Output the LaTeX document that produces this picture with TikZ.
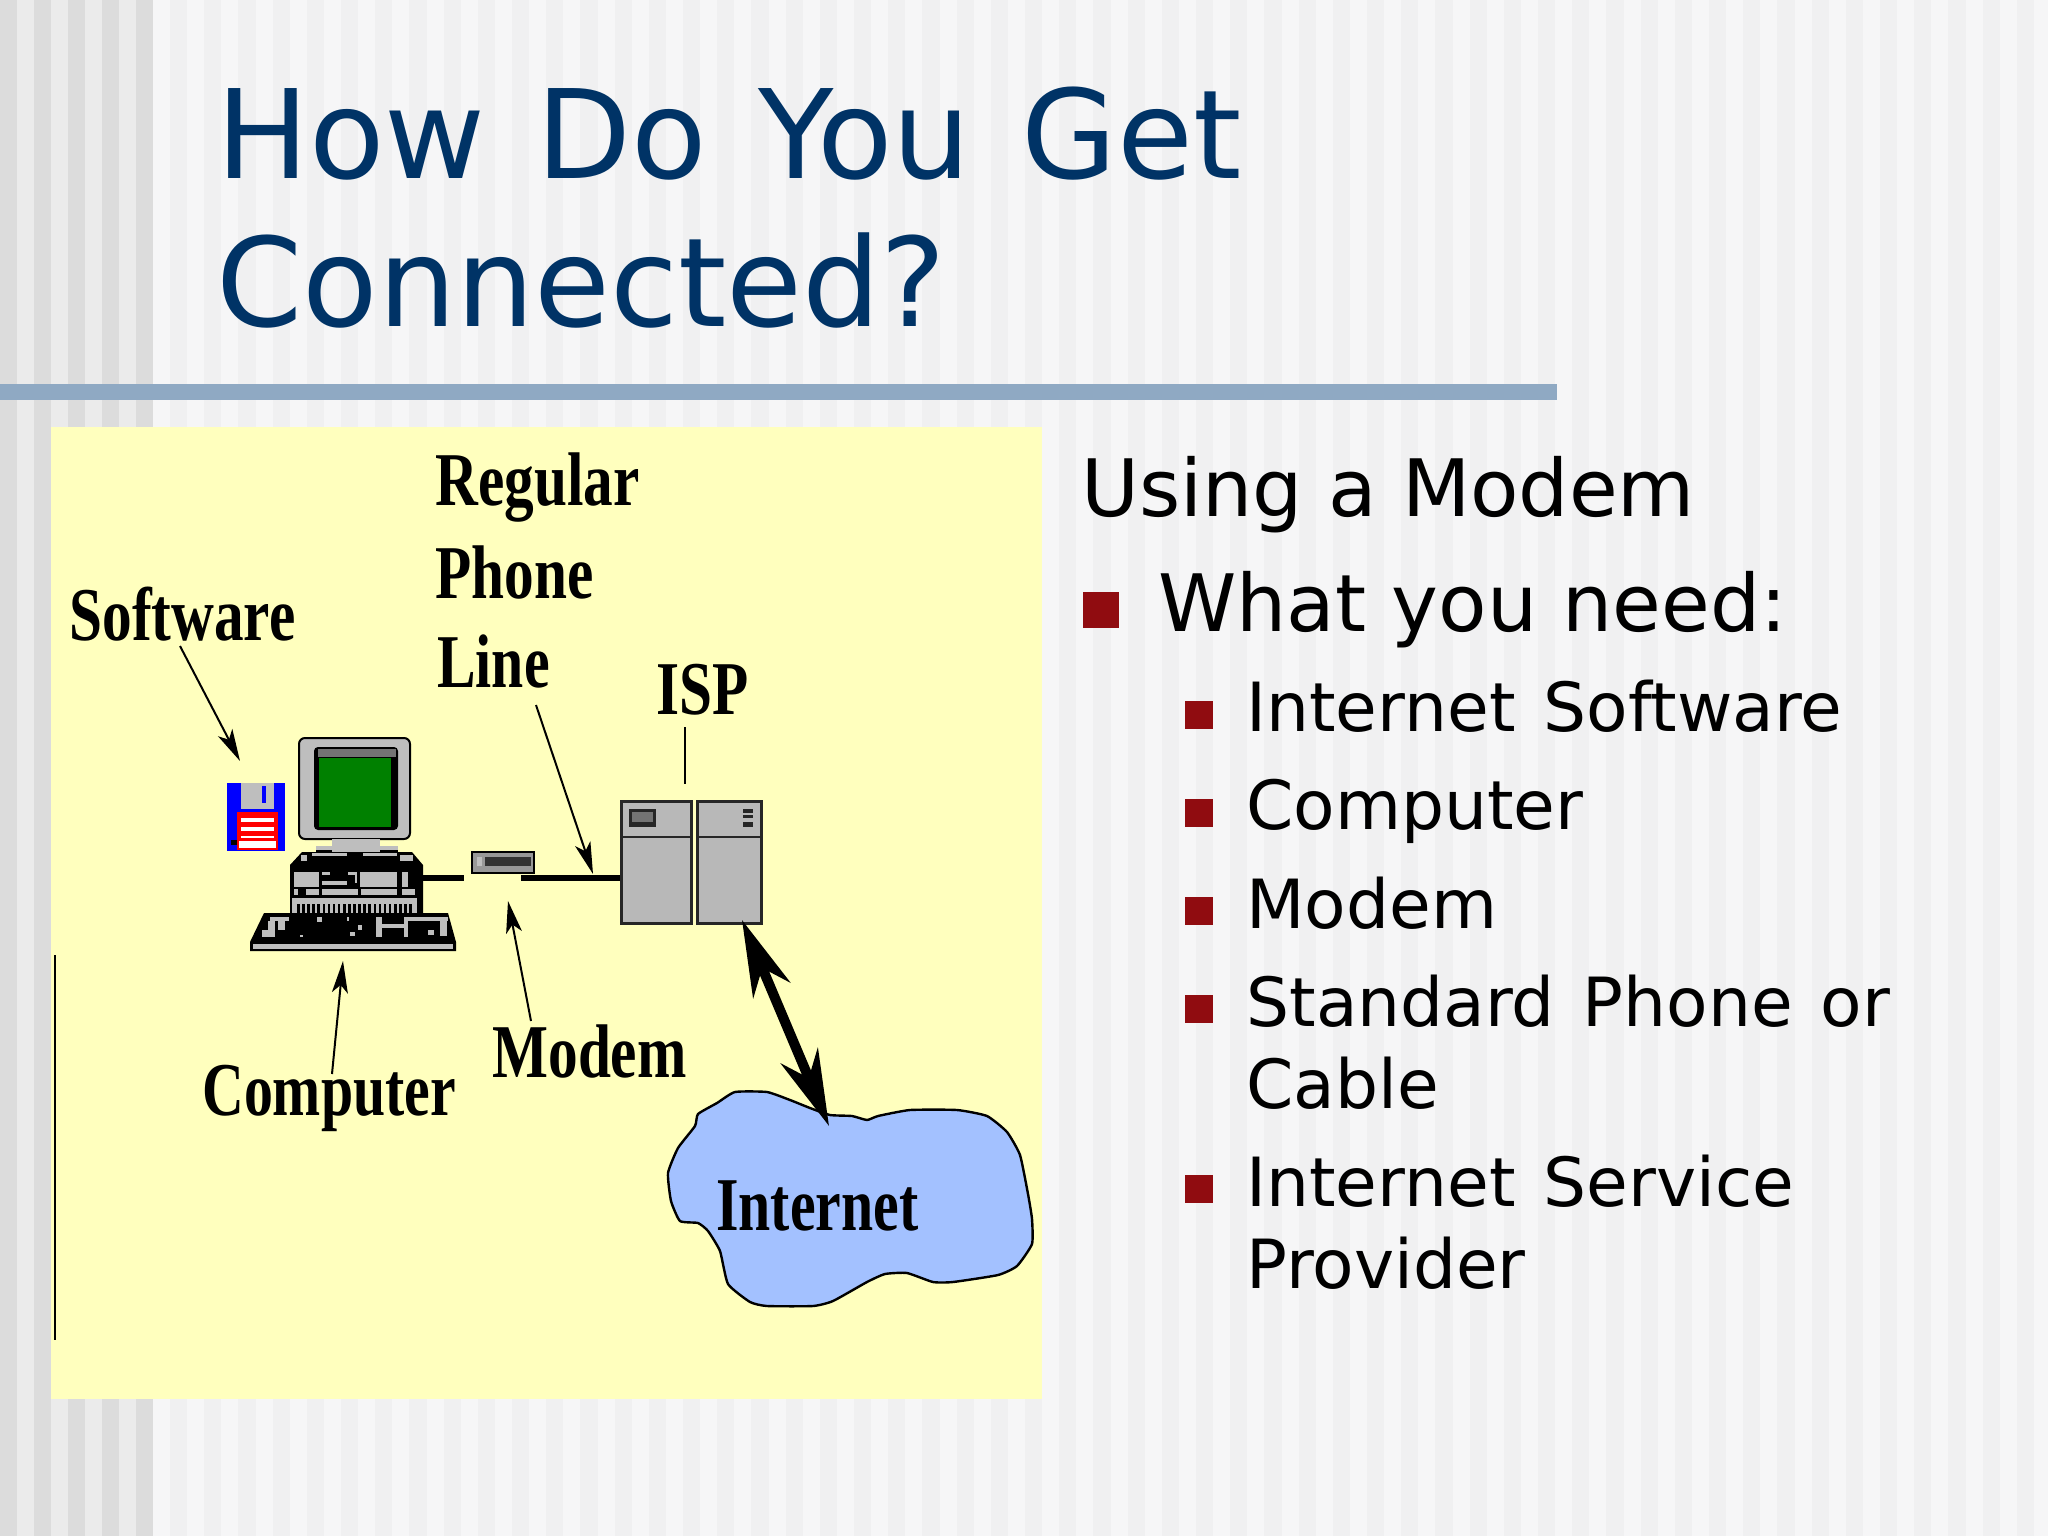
\documentclass[tikz,border=0pt]{standalone}
\usepackage{fontspec}
\setmainfont{DejaVu Sans}
\newfontfamily\clipfont[FakeStretch=0.78]{Liberation Serif}
\newfontfamily\narrowclipfont[FakeStretch=0.76]{Liberation Serif}
\newfontfamily\titlefont[WordSpace=1.42]{DejaVu Sans}
\newfontfamily\itemfont[WordSpace=1.3]{DejaVu Sans}
\usetikzlibrary{arrows.meta}
\definecolor{stripedark}{HTML}{F0F0F1}
\definecolor{stripelight}{HTML}{F6F6F7}
\definecolor{banddark}{HTML}{DCDCDC}
\definecolor{bandlight}{HTML}{EBEBEB}
\definecolor{titleblue}{HTML}{003366}
\definecolor{rulecolor}{HTML}{8FA9C3}
\definecolor{clipyellow}{HTML}{FFFFBE}
\definecolor{bulletred}{HTML}{900C10}
\definecolor{cloudblue}{HTML}{A3C1FF}
\definecolor{cabinet}{HTML}{B8B8B8}
\definecolor{pcgrey}{HTML}{BEBEBE}
\definecolor{pcgreen}{HTML}{008000}
\tikzset{
        cliplabel/.style = {anchor=base west, inner sep=0pt,
                            font=\clipfont\bfseries\fontsize{38}{40}\selectfont},
        narrowlabel/.style = {anchor=base west, inner sep=0pt,
                              font=\narrowclipfont\bfseries\fontsize{38}{40}\selectfont},
        bodylabel/.style = {anchor=base west, inner sep=0pt, align=left,
                            font=\fontsize{39.6}{48}\selectfont},
        sublabel/.style = {anchor=base west, inner sep=0pt, align=left,
                           font=\itemfont\fontsize{33.9}{41}\selectfont},
        bigbullet/.style = {fill=bulletred, inner sep=0pt, minimum size=18pt},
        subbullet/.style = {fill=bulletred, inner sep=0pt, minimum size=14pt},
        towerbox/.style = {draw=black!85, line width=1.6pt, fill=cabinet,
                           anchor=north west, inner sep=0pt,
                           minimum width=35pt, minimum height=61pt},
        pointer/.style = {line width=1pt,
                          -{Stealth[length=16pt,width=8pt,inset=4pt]}},
        cable/.style = {line width=3pt},
}
\begin{document}
\begin{tikzpicture}[x=0.5pt, y=-0.5pt]
        \useasboundingbox (0,0) rectangle (2048,1536);
        \fill[stripelight] (0,0) rectangle (2048,1536);
        \foreach \n in {0,...,55}
                \fill[stripedark] ({170+34.2*\n},0) rectangle ++(17.1,1536);
        \fill[bandlight] (0,0) rectangle (153,1536);
        \foreach \n in {0,...,4}
                \fill[banddark] ({34*\n},0) rectangle ++(17,1536);

        \fill[rulecolor] (0,384) rectangle (1557,400);
        \node[anchor=base west, inner sep=0pt, align=left, text=titleblue,
              font=\titlefont\fontsize{61.7}{74}\selectfont] (title) at (216,326)
                {How Do You Get\\Connected?};

        \fill[clipyellow] (51,427) rectangle (1042,1399);
        \draw[line width=1pt] (55,955) -- (55,1340);

        \node[cliplabel] (regular) at (435,505) {Regular};
        \node[cliplabel] (phone) at (435,598) {Phone};
        \node[narrowlabel] (line) at (437,687) {Line};
        \node[cliplabel] (software) at (69,640) {Software};
        \node[cliplabel] (isp) at (656,714) {ISP};
        \node[narrowlabel] (computer) at (202,1115) {Computer};
        \node[cliplabel] (modemlabel) at (492,1077) {Modem};

        \fill[blue] (227,783) rectangle (285,851);
        \fill[pcgrey] (241,783) rectangle (274,809);
        \fill[blue] (262,786) rectangle (266,803);
        \fill[red] (237,812) rectangle (278,850);
        \fill[white] (241,818) rectangle (274,822);
        \fill[white] (241,827) rectangle (274,831);
        \fill[white] (241,836) rectangle (274,838);
        \fill[white] (239,841) rectangle (276,848);
        \fill (231,840) rectangle (237,845);

        \draw[line width=1pt, fill=pcgrey, rounded corners=3pt] (299,738) rectangle (410,839);
        \fill[rounded corners=2pt] (314,747) rectangle (398,830);
        \fill[black!55] (318,749) rectangle (396,757);
        \fill[pcgreen] (319,758) rectangle (391,827);
        \fill (316,848) rectangle (398,853);
        \fill[pcgrey] (332,839) rectangle (380,853);
        \fill[pcgrey] (316,846) rectangle (332,850);
        \fill[pcgrey] (380,846) rectangle (398,850);

        \fill (302,852) -- (412,852) -- (423,865) -- (423,913)
                -- (290,913) -- (290,865) -- cycle;
        \fill[pcgrey] (301,855) rectangle (307,861);
        \fill[pcgrey] (400,855) rectangle (413,861);
        \fill[pcgrey] (312,853) rectangle (347,856);
        \fill[pcgrey] (363,853) rectangle (397,856);
        \fill[pcgrey] (294,872) rectangle (319,887);
        \fill[pcgrey] (360,872) rectangle (397,887);
        \fill[pcgrey] (402,872) rectangle (408,887);
        \fill[pcgrey] (322,872) rectangle (330,875);
        \fill[pcgrey] (322,881) rectangle (347,885);
        \fill[pcgrey] (348,872) rectangle (357,875);
        \fill[pcgrey] (355,872) rectangle (357,883);
        \fill[pcgrey] (294,889) rectangle (298,895);
        \fill[pcgrey] (306,889) rectangle (319,895);
        \fill[pcgrey] (322,889) rectangle (358,895);
        \fill[pcgrey] (361,889) rectangle (397,895);
        \fill[pcgrey] (402,889) rectangle (415,895);
        \fill[pcgrey] (292,898) rectangle (417,913);
        \foreach \n in {0,...,22}
                \fill ({297+5.1*\n},904) rectangle ++(2.6,9);

        \fill (264,913) -- (448,913) -- (456,942) -- (456,951)
                -- (250,951) -- (250,942) -- cycle;
        \fill[pcgrey] (253,944) rectangle (453,949);
        \foreach \x/\y/\w/\h in {270/917/19/4, 268/921/7/16, 278/921/7/9, 262/930/6/7,
                        317/917/5/5, 347/917/2/4, 300/935/3/2, 350/932/5/4, 358/925/4/5,
                        376/917/6/20, 382/924/22/4, 404/917/4/20, 408/917/40/4,
                        428/930/6/5, 440/921/7/15}
                \fill[pcgrey] (\x,\y) rectangle ++(\w,\h);

        \node[draw=black, line width=1pt, fill=pcgrey!80!black, anchor=north west,
              inner sep=0pt, minimum width=31pt, minimum height=10.5pt] (modem) at (471,851) {};
        \fill[pcgrey] (477,857) rectangle (482,866);
        \fill[black!80] (485,857) rectangle (531,866);

        \node[towerbox] (ispleft) at (620,800) {};
        \node[towerbox, minimum width=32pt] (ispright) at (696,800) {};
        \draw[line width=1pt, draw=black!85] (622,837) -- (691,837);
        \draw[line width=1pt, draw=black!85] (698,837) -- (760,837);
        \fill[black!85] (629,809) rectangle (656,827);
        \fill[black!55] (632,812) rectangle (653,822);
        \foreach \y/\h in {809/4, 815/3, 822/5}
                \fill[black!85] (743,\y) rectangle ++(10,\h);

        \draw[line width=1.2pt, fill=cloudblue] plot[smooth cycle, tension=0.3] coordinates {
                (735,1092) (767,1092) (790,1100) (810,1108) (830,1115) (852,1116)
                (867,1120) (878,1116) (910,1110) (957,1110) (987,1116) (1007,1132)
                (1020,1155) (1028,1194) (1032,1219) (1032,1244) (1017,1266) (998,1275)
                (953,1282) (933,1282) (907,1273) (885,1274) (867,1282) (833,1301)
                (813,1306) (767,1306) (750,1302) (728,1284) (720,1251) (708,1231)
                (698,1223) (680,1221) (671,1201) (668,1173) (678,1148) (695,1126)
                (698,1114) (717,1103)};
        \node[narrowlabel] (internet) at (716,1230) {Internet};

        \coordinate (softwaretail) at (180,646);
        \coordinate (softwaretip) at (240,761);
        \coordinate (linetail) at (536,705);
        \coordinate (linetip) at (593,874);
        \coordinate (modemtail) at (531,1021);
        \coordinate (modemtip) at (508,901);
        \coordinate (computertail) at (332,1074);
        \coordinate (computertip) at (343,961);
        \coordinate (isptail) at (685,727);
        \coordinate (ispport) at (685,784);
        \coordinate (pcport) at (423,878);
        \coordinate (pcend) at (464,878);
        \coordinate (lineend) at (521,878);
        \coordinate (lineport) at (620,878);
        \coordinate (ispcorner) at (742,920);
        \coordinate (cloudtop) at (829,1126);

        \draw[pointer] (softwaretail) -- (softwaretip);
        \draw[pointer] (linetail) -- (linetip);
        \draw[pointer] (modemtail) -- (modemtip);
        \draw[pointer] (computertail) -- (computertip);
        \draw[line width=1pt] (isptail) -- (ispport);
        \draw[cable] (pcport) -- (pcend);
        \draw[cable] (lineend) -- (lineport);
        \draw[line width=5pt, {Stealth[length=38pt,width=20pt,inset=12pt]}-{Stealth[length=38pt,width=20pt,inset=12pt]}]
                (ispcorner) -- (cloudtop);

        \node[bodylabel] (using) at (1081,516) {Using a Modem};
        \node[bigbullet] (bulneed) at (1101,610) {};
        \node[bodylabel] (need) at (1158,631) {What you need:};
        \node[subbullet] (bulsoftware) at (1199,715) {};
        \node[sublabel] (itemsoftware) at (1246,731) {Internet Software};
        \node[subbullet] (bulcomputer) at (1199,813) {};
        \node[sublabel] (itemcomputer) at (1246,829) {Computer};
        \node[subbullet] (bulmodem) at (1199,911) {};
        \node[sublabel] (itemmodem) at (1246,928) {Modem};
        \node[subbullet] (bulphone) at (1199,1009) {};
        \node[sublabel] (itemphone) at (1246,1108) {Standard Phone or\\Cable};
        \node[subbullet] (bulisp) at (1199,1189) {};
        \node[sublabel] (itemisp) at (1246,1288) {Internet Service\\Provider};
\end{tikzpicture}
\end{document}
